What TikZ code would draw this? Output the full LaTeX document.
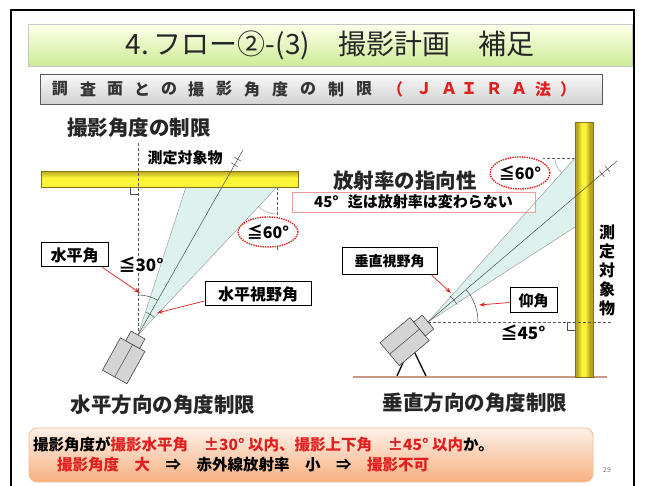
\documentclass[tikz,border=0pt]{standalone}
\usepackage{fontspec}
\setmainfont{Noto Sans CJK JP}
\usetikzlibrary{arrows.meta,calc,shapes.geometric}
\newcommand\fsz[1]{\fontsize{#1}{#1}\selectfont}
\definecolor{mred}{HTML}{E02020}
\definecolor{fovfill}{HTML}{DDF2EE}
\definecolor{barolive}{HTML}{B8A41E}
\definecolor{baryel}{HTML}{FAF538}
\definecolor{camfill}{HTML}{D4D4D4}
\begin{document}
\begin{tikzpicture}[x=1pt,y=-1pt,
  lbl/.style={draw=black, line width=1pt, fill=white, inner sep=0pt, font=\fsz{#1}\bfseries},
  lbl/.default=15,
  redarr/.style={draw=mred, line width=0.7pt, -{Stealth[length=6pt,width=4pt]}},
  fov/.style={draw=gray!75, line width=0.5pt},
  refdash/.style={draw=gray!70!black, line width=0.5pt, dash pattern=on 3pt off 2pt},
  ring/.style={ellipse, draw=mred, densely dotted, line width=1.4pt, fill=white,
    inner sep=0pt, font=\fsz{16}\bfseries},
  head/.style={font=\fsz{20.5}\bfseries, text=black!85, inner sep=0pt},
  subch/.style={font=\fsz{16}\bfseries, text=black!80, inner sep=0pt},
  cam/.style={fill=camfill, draw=gray!55!black, line width=0.6pt},
]
\useasboundingbox (0,0) rectangle (646,486);
\fill[white] (0,0) rectangle (646,486);

% slide frame
\draw[line width=1.6pt] (11,486) -- (11,10) -- (634,10) -- (634,486);

% title bar
\node[draw=gray!45, top color=green!8!yellow!8, bottom color={rgb,255:red,205;green,236;blue,150},
  minimum width=604, minimum height=42, inner sep=0pt, font=\fsz{28}, text=black!85]
  (title) at (330,45) {4.\,フロー②-(3)　撮影計画　補足};

% sub heading bar
\node[draw=gray!70!black, line width=0.8pt, top color=gray!5, bottom color=gray!35,
  minimum width=562, minimum height=30, inner sep=0pt] (subbar) at (321,89) {};
\foreach \c/\x [count=\i] in {調/60,査/88,面/115,と/142,の/169,撮/196,影/224,角/252,度/280,の/308,制/336,限/364}
  \node[subch] (sa\i) at (\x,89) {\c};
\foreach \c/\x [count=\i] in {（/395,Ｊ/424,Ａ/449,Ｉ/469,Ｒ/494,Ａ/519,法/543,）/568}
  \node[subch, text=mred] (sb\i) at (\x,89) {\c};

\node[head] (h1) at (139,128) {撮影角度の制限};

% ---------- horizontal view (from above) ----------
\coordinate (apL) at (138,335);
\coordinate (fl1) at (186,187);
\coordinate (fl2) at (277,187);
\coordinate (clL) at (243,150);
\fill[fovfill] (apL) -- (fl1) -- (fl2) -- cycle;

% target surface: strips from olive (top) to yellow (bottom)
\foreach \k in {0,...,15}{
  \pgfmathtruncatemacro\p{min(100,\k*15)}
  \fill[baryel!\p!barolive] (41,171+\k) rectangle (298,172.2+\k);
}
\node[inner sep=0pt, minimum width=257, minimum height=16, draw=barolive!70!black, line width=0.3pt]
  (barL) at (169.5,179) {};
\node[font=\fsz{15}\bfseries, inner sep=0pt] (tgtL) at (185,158) {測定対象物};

% normal and reference lines
\coordinate (nTop) at (138,143);
\draw[refdash] (nTop) -- (apL);
\draw[gray!60!black, line width=0.5pt] (130,187) -- (130,194) -- (138,194);
\coordinate (d60b) at (277,252);
\draw[refdash] (fl2) -- (d60b);
\draw[fov] ($(fl2)+(90:27)$) arc[start angle=90, end angle=133, radius=27];

% field of view
\draw[fov] (apL) -- (fl1);
\draw[fov] (apL) -- (fl2);
\draw[gray!60!black, line width=0.5pt] (apL) -- (clL);
\path (apL) -- (clL) coordinate[pos=0.95] (mkL1) coordinate[pos=0.92] (mkL2);
\draw[gray!60!black, line width=0.5pt] ($(mkL1)!4pt!90:(clL)$) -- ($(mkL1)!4pt!-90:(clL)$);
\draw[gray!60!black, line width=0.5pt] ($(mkL2)!4pt!90:(clL)$) -- ($(mkL2)!4pt!-90:(clL)$);
\draw[fov, gray!60!black] ($(apL)+(-90:40)$) arc[start angle=-90, end angle=-60, radius=40];
\draw[fov, gray!60!black] ($(apL)+(-72:24)$) arc[start angle=-72, end angle=-47, radius=24];

\node[ring, minimum width=56, minimum height=30] (r60L) at (268,232) {≦60°};
\node[font=\fsz{17}\bfseries, inner sep=0pt] (a30) at (141,265) {≦30°};

% camera seen from above
\begin{scope}[shift={(apL)}, rotate=61]
  \draw[cam] (-48,-14) rectangle (-11,14);
  \draw[cam] (-11,-8) rectangle (0,8);
  \draw[gray!55!black, line width=0.5pt] (-48,0) -- (-11,0);
\end{scope}

\node[lbl=16, minimum width=67, minimum height=24] (hk) at (74.5,255) {水平角};
\coordinate (hkT) at (140,293);
\draw[redarr] (hk.south east) ++(-6,0) -- (hkT);
\node[lbl=16, minimum width=106, minimum height=24] (hyk) at (258,294) {水平視野角};
\coordinate (hykT) at (157,313);
\draw[redarr] ($(hyk.west)+(0,7)$) -- (hykT);

\node[head] (h2) at (163,405) {水平方向の角度制限};

% ---------- vertical view (from the side) ----------
\coordinate (apR) at (428,322);
\coordinate (fr1) at (575,158);
\coordinate (fr2) at (575,227);
\coordinate (clR) at (617,161);
\fill[fovfill] (apR) -- (fr1) -- (fr2) -- cycle;

\node[head] (h3) at (405,181) {放射率の指向性};
\node[draw=mred!45, line width=0.8pt, fill=white, minimum width=243, minimum height=20,
  inner sep=0pt, font=\fsz{15}\bfseries] (note) at (413.5,202) {45°\hspace{0.6em}迄は放射率は変わらない};

% ground and tripod
\draw[draw={rgb,255:red,205;green,150;blue,135}, line width=1.6pt] (353,377) -- (607,377);
\coordinate (tp) at (411,345);
\coordinate (tl1) at (397,376);
\coordinate (tl2) at (426,376);
\draw[line width=1.3pt] (tl1) -- (tp) -- (tl2);

% target surface: strips olive at the edges, yellow in the middle
\foreach \k in {0,...,17}{
  \pgfmathtruncatemacro\p{max(0,min(100,140-abs(\k-8.5)*22))}
  \fill[baryel!\p!barolive] (575+\k,122) rectangle (576.2+\k,377);
}
\node[inner sep=0pt, minimum width=18, minimum height=255, draw=barolive!70!black, line width=0.3pt]
  (barR) at (584,249.5) {};
\foreach \c/\y [count=\i] in {測/232,定/251,対/270,象/289,物/308}
  \node[font=\fsz{16}\bfseries, inner sep=0pt] (tv\i) at (607,\y) {\c};

% reference lines
\coordinate (hEnd) at (613,322);
\draw[refdash] (apR) -- (hEnd);
\draw[gray!60!black, line width=0.5pt] (567,322) -- (567,330) -- (575,330);
\coordinate (topRef) at (543,158);
\draw[refdash] (fr1) -- (topRef);
\draw[fov] ($(fr1)+(132:20)$) arc[start angle=132, end angle=180, radius=20];

% field of view
\draw[fov] (apR) -- (fr1);
\draw[fov] (apR) -- (fr2);
\draw[gray!60!black, line width=0.5pt] (apR) -- (clR);
\path (apR) -- (clR) coordinate[pos=0.95] (mkR1) coordinate[pos=0.92] (mkR2);
\draw[gray!60!black, line width=0.5pt] ($(mkR1)!4pt!90:(clR)$) -- ($(mkR1)!4pt!-90:(clR)$);
\draw[gray!60!black, line width=0.5pt] ($(mkR2)!4pt!90:(clR)$) -- ($(mkR2)!4pt!-90:(clR)$);
\draw[fov, gray!60!black] ($(apR)+(0:50)$) arc[start angle=0, end angle=-40, radius=50];
\draw[fov, gray!60!black] ($(apR)+(-31:34)$) arc[start angle=-31, end angle=-50, radius=34];

\node[ring, minimum width=54, minimum height=32] (r60R) at (520,173) {≦60°};
\node[font=\fsz{17}\bfseries, inner sep=0pt] (a45) at (523,333) {≦45°};

% camera seen from the side
\begin{scope}[shift={(apR)}, rotate=40]
  \draw[cam] (-50,-15) rectangle (-11,15);
  \draw[cam] (-11,-9) rectangle (0,9);
  \draw[gray!55!black, line width=0.5pt] (-50,0) -- (-11,0);
\end{scope}

\node[lbl=14, minimum width=95, minimum height=27] (vyk) at (389.5,261) {垂直視野角};
\coordinate (vykT) at (451,293);
\draw[redarr] ($(vyk.south east)+(-6,0)$) -- (vykT);
\node[lbl=15, minimum width=47, minimum height=25] (gk) at (533.5,300.5) {仰角};
\coordinate (gkT) at (479,305);
\draw[redarr] ($(gk.west)+(0,2)$) -- (gkT);

\node[head] (h4) at (475,403) {垂直方向の角度制限};

% ---------- summary ----------
\node[rounded corners=8pt, draw={rgb,255:red,245;green,190;blue,150}, line width=0.8pt,
  top color={rgb,255:red,253;green,240;blue,232}, bottom color={rgb,255:red,247;green,176;blue,128},
  minimum width=564, minimum height=54, inner sep=0pt] (sum) at (311,455) {};
\node[anchor=west, inner sep=0pt, font=\fsz{15.5}\bfseries] (s1) at (33,444)
  {撮影角度が\textcolor{mred}{撮影水平角　±30° 以内、撮影上下角　±45° 以内}か。};
\node[anchor=west, inner sep=0pt, font=\fsz{15.5}\bfseries] (s2) at (57,465)
  {\textcolor{mred}{撮影角度　大}　⇒　赤外線放射率　小　⇒　\textcolor{mred}{撮影不可}};
\node[font=\fsz{7}, text=gray, inner sep=0pt] (pg) at (607,470) {29};
\end{tikzpicture}
\end{document}
